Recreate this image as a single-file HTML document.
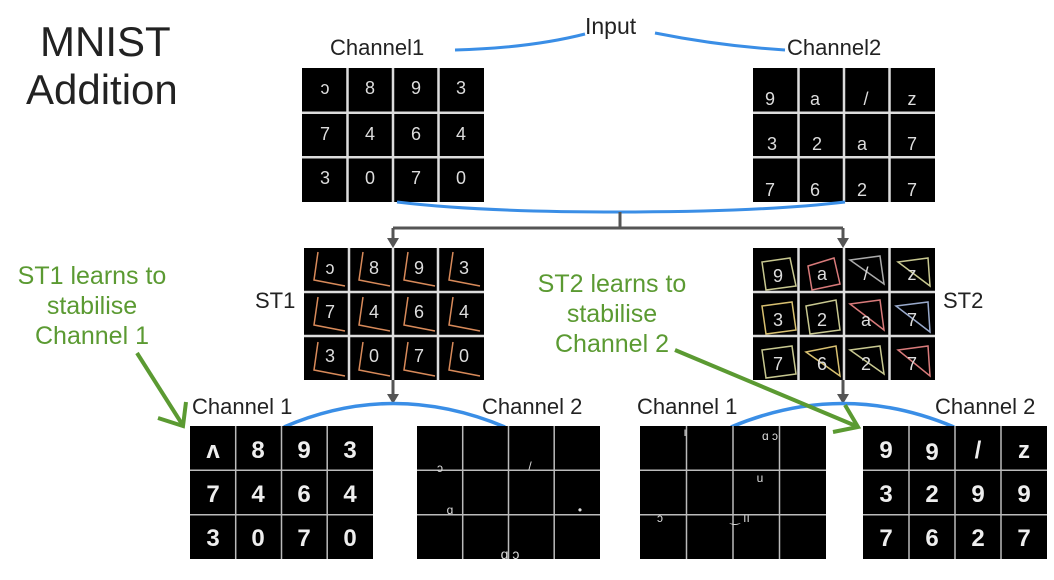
<!DOCTYPE html>
<html><head><meta charset="utf-8"><style>
html,body{margin:0;padding:0;background:#fff;}
svg{display:block}
text{font-family:"Liberation Sans",sans-serif;}
.lbl{font-size:22px;fill:#222;}
.g{font-size:25px;fill:#5b9a32;}
.d{font-size:24px;fill:#eee;font-weight:bold;text-anchor:middle;}
.ds{font-size:18px;fill:#ddd;text-anchor:middle;}
</style></head><body>
<svg width="1054" height="580" viewBox="0 0 1054 580" xmlns="http://www.w3.org/2000/svg">
<text x="40" y="56" style="font-size:42px;fill:#222;">MNIST</text>
<text x="26" y="104" style="font-size:42px;fill:#222;">Addition</text>

<text x="585" y="34" class="lbl" style="font-size:23px">Input</text>
<text x="330" y="55" class="lbl">Channel1</text>
<text x="787" y="55" class="lbl">Channel2</text>
<path d="M455 50 Q530 48 585 34" stroke="#3a8ee6" stroke-width="3" fill="none"/>
<path d="M655 33 Q720 46 785 50" stroke="#3a8ee6" stroke-width="3" fill="none"/>

<g>
<rect x="302" y="68" width="182" height="134" fill="#000"/>
<path d="M347.5 68V202M393 68V202M438.5 68V202M302 112.7H484M302 157.3H484" stroke="#ddd" stroke-width="2.5"/>
<text class="ds" x="325" y="94">ↄ</text><text class="ds" x="370" y="94">8</text><text class="ds" x="416" y="94">9</text><text class="ds" x="461" y="94">3</text>
<text class="ds" x="325" y="140">7</text><text class="ds" x="370" y="140">4</text><text class="ds" x="416" y="140">6</text><text class="ds" x="461" y="140">4</text>
<text class="ds" x="325" y="184">3</text><text class="ds" x="370" y="184">0</text><text class="ds" x="416" y="184">7</text><text class="ds" x="461" y="184">0</text>
</g>
<g>
<rect x="753" y="68" width="182" height="134" fill="#000"/>
<path d="M798.5 68V202M844 68V202M889.5 68V202M753 112.7H935M753 157.3H935" stroke="#ddd" stroke-width="2.5"/>
<text class="ds" x="770" y="105">9</text><text class="ds" x="815" y="105">a</text><text class="ds" x="866" y="105">/</text><text class="ds" x="912" y="105">z</text>
<text class="ds" x="772" y="150">3</text><text class="ds" x="817" y="150">2</text><text class="ds" x="862" y="150">a</text><text class="ds" x="912" y="150">7</text>
<text class="ds" x="770" y="196">7</text><text class="ds" x="815" y="196">6</text><text class="ds" x="862" y="196">2</text><text class="ds" x="912" y="196">7</text>
</g>
<path d="M397 202 Q480 212 620 212 Q760 212 845 202" stroke="#3a8ee6" stroke-width="3" fill="none"/>
<path d="M620 212V228M393 228H843M393 228V240M843 228V240" stroke="#555" stroke-width="3" fill="none"/>
<path d="M387 238L399 238L393 248Z M837 238L849 238L843 248Z" fill="#555"/>

<text x="255" y="308" class="lbl">ST1</text>
<text x="943" y="308" class="lbl">ST2</text>
<g>
<rect x="304" y="248" width="180" height="132" fill="#000"/>
<g stroke-width="1.5" fill="none">
<path d="M318 252 L314 280 L345 286" stroke="#d88a5a"/>
<path d="M363 252 L359 280 L390 286" stroke="#d88a5a"/><path d="M408 252 L404 280 L435 286" stroke="#d88a5a"/><path d="M453 252 L449 280 L480 286" stroke="#d88a5a"/>
<path d="M318 297 L314 325 L345 331" stroke="#d88a5a"/><path d="M363 297 L359 325 L390 331" stroke="#d88a5a"/><path d="M408 297 L404 325 L435 331" stroke="#d88a5a"/><path d="M453 297 L449 325 L480 331" stroke="#d88a5a"/>
<path d="M318 342 L314 370 L345 376" stroke="#d88a5a"/><path d="M363 342 L359 370 L390 376" stroke="#d88a5a"/><path d="M408 342 L404 370 L435 376" stroke="#d88a5a"/><path d="M453 342 L449 370 L480 376" stroke="#d88a5a"/>
</g>
<path d="M349 248V380M393 248V380M438 248V380M304 292H484M304 336H484" stroke="#ddd" stroke-width="2.5"/>
<text class="ds" x="330" y="274">ↄ</text><text class="ds" x="374" y="274">8</text><text class="ds" x="419" y="274">9</text><text class="ds" x="464" y="274">3</text>
<text class="ds" x="330" y="318">7</text><text class="ds" x="374" y="318">4</text><text class="ds" x="419" y="318">6</text><text class="ds" x="464" y="318">4</text>
<text class="ds" x="330" y="362">3</text><text class="ds" x="374" y="362">0</text><text class="ds" x="419" y="362">7</text><text class="ds" x="464" y="362">0</text>
</g>
<g>
<rect x="753" y="248" width="182" height="132" fill="#000"/>
<g stroke-width="1.5" fill="none" stroke="#c8c890">
<path d="M762 262 L790 258 L796 286 L766 290Z"/><path d="M808 266 L834 258 L840 284 L812 290Z" stroke="#d87a7a"/><path d="M850 260 L880 256 L884 284Z" stroke="#aaa"/><path d="M898 262 L928 258 L930 286Z"/>
<path d="M762 306 L792 302 L796 330 L766 334Z" stroke="#d8c070"/><path d="M806 306 L836 300 L840 330 L810 334Z"/><path d="M850 304 L880 300 L884 330Z" stroke="#d87a7a"/><path d="M896 306 L928 302 L930 332Z" stroke="#9ac"/>
<path d="M762 350 L792 346 L796 374 L766 378Z"/><path d="M806 352 L836 346 L840 376Z" stroke="#d8c070"/><path d="M850 350 L880 346 L884 374Z"/><path d="M898 350 L928 346 L930 376Z" stroke="#d87a7a"/>
</g>
<path d="M798.5 248V380M844 248V380M889.5 248V380M753 292H935M753 336H935" stroke="#ddd" stroke-width="2.5"/>
<text class="ds" x="778" y="282">9</text><text class="ds" x="822" y="280">a</text><text class="ds" x="866" y="280">/</text><text class="ds" x="912" y="280">z</text>
<text class="ds" x="778" y="326">3</text><text class="ds" x="822" y="326">2</text><text class="ds" x="866" y="326">a</text><text class="ds" x="912" y="326">7</text>
<text class="ds" x="778" y="370">7</text><text class="ds" x="822" y="370">6</text><text class="ds" x="866" y="370">2</text><text class="ds" x="912" y="370">7</text>
</g>
<path d="M393 380V396M843 380V396" stroke="#555" stroke-width="3"/>
<path d="M387 394L399 394L393 404Z M837 394L849 394L843 404Z" fill="#555"/>

<text x="192" y="414" class="lbl">Channel 1</text>
<text x="482" y="414" class="lbl">Channel 2</text>
<text x="637" y="414" class="lbl">Channel 1</text>
<text x="935" y="414" class="lbl">Channel 2</text>
<path d="M284 427 Q393 380 505 427" stroke="#3a8ee6" stroke-width="3.5" fill="none"/>
<path d="M731 427 Q843 380 954 427" stroke="#3a8ee6" stroke-width="3.5" fill="none"/>

<g>
<rect x="190" y="426" width="183" height="133" fill="#000"/>
<path d="M235.7 426V559M281.5 426V559M327.2 426V559M190 470.3H373M190 514.7H373" stroke="#bbb" stroke-width="1.5"/>
<text class="d" x="213" y="458">ʌ</text><text class="d" x="258" y="458">8</text><text class="d" x="304" y="458">9</text><text class="d" x="350" y="458">3</text>
<text class="d" x="213" y="502">7</text><text class="d" x="258" y="502">4</text><text class="d" x="304" y="502">6</text><text class="d" x="350" y="502">4</text>
<text class="d" x="213" y="546">3</text><text class="d" x="258" y="546">0</text><text class="d" x="304" y="546">7</text><text class="d" x="350" y="546">0</text>
</g>
<g>
<rect x="417" y="426" width="183" height="133" fill="#000"/>
<path d="M462.7 426V559M508.5 426V559M554.2 426V559M417 470.3H600M417 514.7H600" stroke="#bbb" stroke-width="1.5"/>
<text class="ds" x="440" y="472" style="font-size:12px">ɔ</text><text class="ds" x="530" y="470" style="font-size:12px">/</text>
<text class="ds" x="450" y="514" style="font-size:12px">ɑ</text><text class="ds" x="580" y="514" style="font-size:12px">•</text>
<text class="ds" x="510" y="559" style="font-size:14px">ɑ ɔ</text>
</g>
<g>
<rect x="640" y="426" width="186" height="133" fill="#000"/>
<path d="M686.5 426V559M733 426V559M779.5 426V559M640 470.3H826M640 514.7H826" stroke="#bbb" stroke-width="1.5"/>
<text class="ds" x="685" y="436" style="font-size:12px">ı</text><text class="ds" x="770" y="440" style="font-size:12px">ɑ ɔ</text>
<text class="ds" x="760" y="482" style="font-size:12px">u</text>
<text class="ds" x="660" y="522" style="font-size:12px">ɔ</text><text class="ds" x="740" y="522" style="font-size:12px">‿ ıı</text>
</g>
<g>
<rect x="863" y="426" width="184" height="133" fill="#000"/>
<path d="M909 426V559M955 426V559M1001 426V559M863 470.3H1047M863 514.7H1047" stroke="#bbb" stroke-width="1.5"/>
<text class="d" x="886" y="458">9</text><text class="d" x="932" y="460">9</text><text class="d" x="978" y="458">/</text><text class="d" x="1024" y="458">z</text>
<text class="d" x="886" y="502">3</text><text class="d" x="932" y="502">2</text><text class="d" x="978" y="502">9</text><text class="d" x="1024" y="502">9</text>
<text class="d" x="886" y="546">7</text><text class="d" x="932" y="546">6</text><text class="d" x="978" y="546">2</text><text class="d" x="1024" y="546">7</text>
</g>

<text x="92" y="284" class="g" text-anchor="middle">ST1 learns to</text>
<text x="92" y="314" class="g" text-anchor="middle">stabilise</text>
<text x="92" y="344" class="g" text-anchor="middle">Channel 1</text>
<path d="M137 353 L182 424" stroke="#5b9a32" stroke-width="4" fill="none"/>
<path d="M158 418 L183 426 L186 402" stroke="#5b9a32" stroke-width="4" fill="none"/>
<text x="612" y="292" class="g" text-anchor="middle">ST2 learns to</text>
<text x="612" y="322" class="g" text-anchor="middle">stabilise</text>
<text x="612" y="352" class="g" text-anchor="middle">Channel 2</text>
<path d="M675 350 L856 426" stroke="#5b9a32" stroke-width="4" fill="none"/>
<path d="M833 432 L858 427 L845 405" stroke="#5b9a32" stroke-width="4" fill="none"/>
</svg>
</body></html>
